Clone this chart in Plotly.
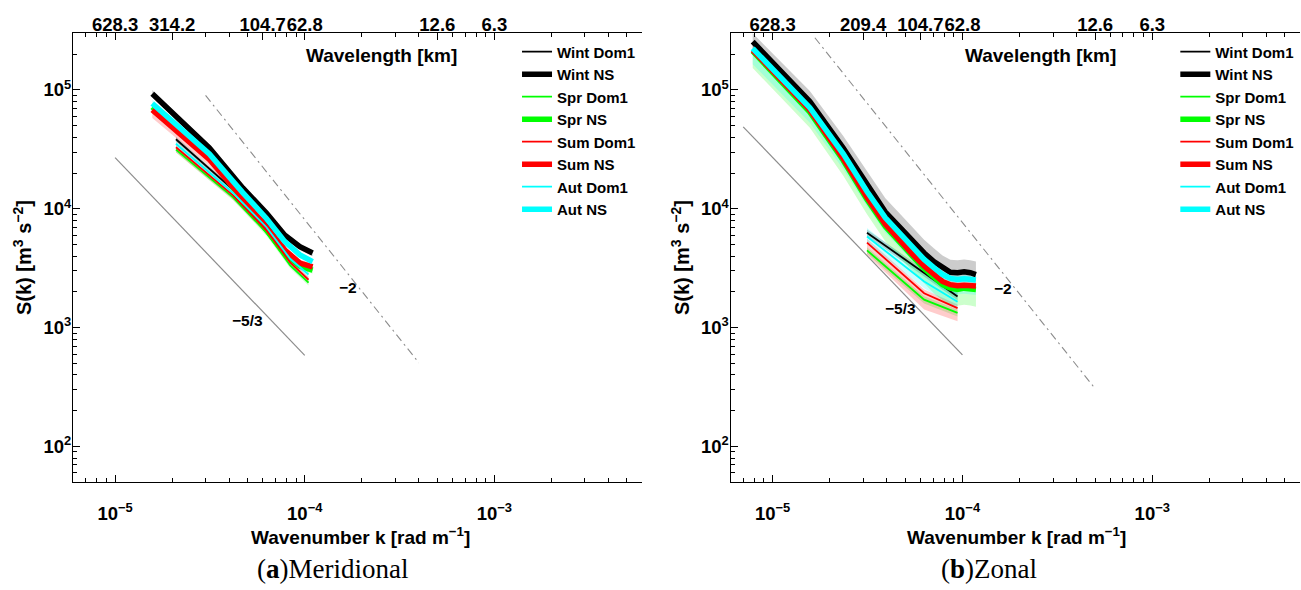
import plotly.graph_objects as go

# ---------------- data ----------------
# Meridional panel (a)
mer_k_ns = [1.571e-5, 3.142e-5, 4.712e-5, 6.283e-5, 7.854e-5, 9.425e-5, 1.100e-4]
mer_k_d1 = [2.094e-5, 4.189e-5, 6.283e-5, 8.378e-5, 1.047e-4]

mer_wint_ns = [93000, 32500, 15000, 9200, 6000, 4800, 4250]
mer_wint_ns_lo = [87000, 30500, 14100, 8650, 5650, 4500, 4000]
mer_wint_ns_hi = [100000, 34800, 16000, 9800, 6400, 5100, 4500]
mer_spr_ns = [72000, 27000, 12000, 6600, 4200, 3300, 3050]
mer_spr_ns_lo = [66000, 25000, 11000, 6100, 3900, 3050, 2850]
mer_spr_ns_hi = [78000, 29000, 13000, 7100, 4500, 3550, 3250]
mer_sum_ns = [68000, 26000, 12300, 7000, 4500, 3500, 3250]
mer_sum_ns_lo = [58000, 23000, 11200, 6400, 4150, 3250, 3000]
mer_sum_ns_hi = [74000, 28000, 13300, 7500, 4800, 3750, 3450]
mer_aut_ns = [77000, 29000, 13700, 8300, 5300, 4100, 3600]
mer_aut_ns_lo = [71000, 27000, 12800, 7800, 4950, 3850, 3400]
mer_aut_ns_hi = [83000, 31000, 14600, 8800, 5650, 4350, 3800]

mer_wint_d1 = [38500, 14500, 7500, 4100, 3050]
mer_wint_d1_lo = [36500, 13800, 7100, 3900, 2900]
mer_wint_d1_hi = [40500, 15200, 7900, 4300, 3200]
mer_spr_d1 = [31500, 12500, 6300, 3350, 2390]
mer_spr_d1_lo = [29800, 11800, 5950, 3170, 2260]
mer_spr_d1_hi = [33200, 13200, 6650, 3530, 2520]
mer_sum_d1 = [33000, 13000, 6600, 3550, 2530]
mer_sum_d1_lo = [30000, 12000, 6150, 3330, 2380]
mer_sum_d1_hi = [35000, 13800, 7000, 3770, 2680]
mer_aut_d1 = [35300, 13600, 7000, 3800, 2800]
mer_aut_d1_lo = [33300, 12900, 6650, 3600, 2650]
mer_aut_d1_hi = [37300, 14300, 7350, 4000, 2950]

# Zonal panel (b)
zon_k_ns = [7.854e-6, 1.571e-5, 2.356e-5, 3.142e-5, 3.927e-5, 4.712e-5, 5.498e-5, 6.283e-5,
            7.069e-5, 7.854e-5, 8.639e-5, 9.425e-5, 1.021e-4, 1.100e-4, 1.178e-4]
zon_k_d1 = [3.142e-5, 6.283e-5, 9.425e-5]

zon_wint_ns = [255000, 80000, 32500, 15800, 9400, 6900, 5300, 4250, 3600, 3170, 2920, 2900, 2950, 2900, 2800]
zon_wint_ns_lo = [220000, 69000, 28000, 13600, 8100, 5950, 4600, 3700, 3150, 2780, 2560, 2550, 2600, 2560, 2470]
zon_wint_ns_hi = [300000, 98000, 41000, 20500, 12300, 9000, 6900, 5500, 4650, 4050, 3720, 3700, 3750, 3700, 3600]
zon_spr_ns = [212000, 65000, 25500, 12000, 7100, 5100, 3950, 3150, 2650, 2300, 2150, 2100, 2150, 2130, 2100]
zon_spr_ns_lo = [153000, 48000, 19000, 9000, 5300, 3800, 2950, 2350, 1950, 1700, 1570, 1530, 1560, 1540, 1500]
zon_spr_ns_hi = [229000, 70000, 27500, 13000, 7650, 5500, 4250, 3400, 2860, 2480, 2320, 2270, 2320, 2300, 2270]
zon_sum_ns = [217000, 68000, 26500, 12500, 7400, 5300, 4100, 3300, 2800, 2450, 2300, 2250, 2280, 2260, 2240]
zon_sum_ns_lo = [200000, 62500, 24400, 11500, 6800, 4880, 3770, 3040, 2580, 2250, 2120, 2070, 2100, 2080, 2060]
zon_sum_ns_hi = [234000, 73500, 28600, 13500, 8000, 5720, 4430, 3560, 3020, 2650, 2480, 2430, 2460, 2440, 2420]
zon_aut_ns = [224000, 71000, 29000, 14000, 8400, 6100, 4700, 3750, 3200, 2800, 2600, 2550, 2580, 2560, 2520]
zon_aut_ns_lo = [165000, 53000, 21500, 10500, 6300, 4600, 3550, 2850, 2400, 2100, 1950, 1900, 1930, 1900, 1880]
zon_aut_ns_hi = [245000, 78000, 32000, 15400, 9200, 6700, 5200, 4100, 3500, 3080, 2860, 2800, 2840, 2820, 2770]

zon_wint_d1 = [6300, 2900, 1830]
zon_wint_d1_lo = [5900, 2700, 1700]
zon_wint_d1_hi = [6700, 3100, 1960]
zon_spr_d1 = [4470, 1720, 1330]
zon_spr_d1_lo = [4200, 1600, 1240]
zon_spr_d1_hi = [4750, 1840, 1420]
zon_sum_d1 = [5200, 1950, 1460]
zon_sum_d1_lo = [4100, 1420, 1130]
zon_sum_d1_hi = [5600, 2100, 1570]
zon_aut_d1 = [5850, 2450, 1650]
zon_aut_d1_lo = [5200, 2150, 1450]
zon_aut_d1_hi = [6900, 2900, 1950]

# reference slope lines
mer_ref53_k = [1e-5, 1e-4]
mer_ref53_s = [27000, 585]
mer_ref2_k = [3e-5, 4e-4]
mer_ref2_s = [90000, 506]
zon_ref53_k = [7e-6, 1e-4]
zon_ref53_s = [49000, 590]
zon_ref2_k = [1.67e-5, 5e-4]
zon_ref2_s = [275000, 307]

# tick labels
x_tick_vals = [1e-5, 1e-4, 1e-3]
x_tick_text = ["10<sup>−5</sup>", "10<sup>−4</sup>", "10<sup>−3</sup>"]
y_tick_vals = [1e2, 1e3, 1e4, 1e5]
y_tick_text = ["10<sup>2</sup>", "10<sup>3</sup>", "10<sup>4</sup>", "10<sup>5</sup>"]
mer_top_k = [1e-5, 2e-5, 6e-5, 1e-4, 5e-4, 1e-3]
mer_top_lbl = ["628.3", "314.2", "104.7", "62.8", "12.6", "6.3"]
zon_top_k = [1e-5, 3e-5, 6e-5, 1e-4, 5e-4, 1e-3]
zon_top_lbl = ["628.3", "209.4", "104.7", "62.8", "12.6", "6.3"]

series_names = ["Wint Dom1", "Wint NS", "Spr Dom1", "Spr NS", "Sum Dom1", "Sum NS", "Aut Dom1", "Aut NS"]
line_colors = ["#000000", "#000000", "#00ff00", "#00ff00", "#ff0000", "#ff0000", "#00ffff", "#00ffff"]
band_colors = ["rgba(0,0,0,0.2)", "rgba(0,0,0,0.2)", "rgba(0,255,0,0.2)", "rgba(0,255,0,0.2)",
               "rgba(255,0,0,0.2)", "rgba(255,0,0,0.2)", "rgba(0,255,255,0.2)", "rgba(0,255,255,0.2)"]
line_widths = [1.8, 5.5, 1.8, 5.5, 1.8, 5.5, 1.8, 5.5]

FONT = "Liberation Sans"

mer_sets = [
    (mer_k_d1, mer_wint_d1, mer_wint_d1_lo, mer_wint_d1_hi),
    (mer_k_ns, mer_wint_ns, mer_wint_ns_lo, mer_wint_ns_hi),
    (mer_k_d1, mer_spr_d1, mer_spr_d1_lo, mer_spr_d1_hi),
    (mer_k_ns, mer_spr_ns, mer_spr_ns_lo, mer_spr_ns_hi),
    (mer_k_d1, mer_sum_d1, mer_sum_d1_lo, mer_sum_d1_hi),
    (mer_k_ns, mer_sum_ns, mer_sum_ns_lo, mer_sum_ns_hi),
    (mer_k_d1, mer_aut_d1, mer_aut_d1_lo, mer_aut_d1_hi),
    (mer_k_ns, mer_aut_ns, mer_aut_ns_lo, mer_aut_ns_hi),
]
zon_sets = [
    (zon_k_d1, zon_wint_d1, zon_wint_d1_lo, zon_wint_d1_hi),
    (zon_k_ns, zon_wint_ns, zon_wint_ns_lo, zon_wint_ns_hi),
    (zon_k_d1, zon_spr_d1, zon_spr_d1_lo, zon_spr_d1_hi),
    (zon_k_ns, zon_spr_ns, zon_spr_ns_lo, zon_spr_ns_hi),
    (zon_k_d1, zon_sum_d1, zon_sum_d1_lo, zon_sum_d1_hi),
    (zon_k_ns, zon_sum_ns, zon_sum_ns_lo, zon_sum_ns_hi),
    (zon_k_d1, zon_aut_d1, zon_aut_d1_lo, zon_aut_d1_hi),
    (zon_k_ns, zon_aut_ns, zon_aut_ns_lo, zon_aut_ns_hi),
]

fig = go.Figure()


def add_panel(sets, xa, ya, xtop, legend_id, ref53k, ref53s, ref2k, ref2s):
    # shaded bands first
    for i, (k, v, lo, hi) in enumerate(sets):
        fig.add_trace(go.Scatter(
            x=list(k) + list(k)[::-1], y=list(hi) + list(lo)[::-1],
            mode="lines", fill="toself", fillcolor=band_colors[i],
            line=dict(width=0), hoverinfo="skip", showlegend=False,
            xaxis=xa, yaxis=ya))
    # reference slopes on the top (wavelength) axis, which shares the range
    fig.add_trace(go.Scatter(x=ref53k, y=ref53s, mode="lines",
                             line=dict(color="#8c8c8c", width=1.2),
                             showlegend=False, hoverinfo="skip", xaxis=xtop, yaxis=ya))
    fig.add_trace(go.Scatter(x=ref2k, y=ref2s, mode="lines",
                             line=dict(color="#8c8c8c", width=1.1, dash="8px,4px,2px,4px"),
                             showlegend=False, hoverinfo="skip", xaxis=xtop, yaxis=ya))
    for i, (k, v, lo, hi) in enumerate(sets):
        fig.add_trace(go.Scatter(
            x=k, y=v, mode="lines", name=series_names[i],
            line=dict(color=line_colors[i], width=line_widths[i]),
            legend=legend_id, xaxis=xa, yaxis=ya))


add_panel(mer_sets, "x", "y", "x3", "legend", mer_ref53_k, mer_ref53_s, mer_ref2_k, mer_ref2_s)
add_panel(zon_sets, "x2", "y2", "x4", "legend2", zon_ref53_k, zon_ref53_s, zon_ref2_k, zon_ref2_s)

XR = [-5.2218, -2.2218]   # 6e-6 .. 6e-3
YR = [1.699, 5.477]       # 50 .. 3e5
minor_x = [d * 10.0 ** e for e in range(-6, -2) for d in range(2, 10)]
minor_y = [d * 10.0 ** e for e in range(1, 6) for d in range(2, 10)]
all_x = [d * 10.0 ** e for e in range(-6, -2) for d in range(1, 10)]

tickfont = dict(family=FONT, size=18.5, color="black", weight="bold")
dom_a = [73 / 1301, 642 / 1301]
dom_b = [730.5 / 1301, 1300 / 1301]
dom_y = [(590 - 482.3) / 590, (590 - 33.3) / 590]


def xaxis_bottom(dom, anchor):
    return dict(type="log", range=XR, domain=dom, anchor=anchor, showline=True, linecolor="black",
                linewidth=1.2, ticks="inside", ticklen=7, tickcolor="black", tickwidth=1,
                tickmode="array", tickvals=x_tick_vals, ticktext=x_tick_text, tickfont=tickfont,
                showgrid=False, zeroline=False, tickangle=0, ticklabelstandoff=14,
                minor=dict(ticks="inside", ticklen=4, tickcolor="black", tickmode="array",
                           tickvals=minor_x, showgrid=False))


def xaxis_top(overlay, anchor, tv, tt):
    minor_top = [v for v in all_x if min(abs(v / t - 1) for t in tv) > 1e-6]
    return dict(type="log", range=XR, overlaying=overlay, anchor=anchor, side="top", showline=True,
                linecolor="black", linewidth=1.2, ticks="inside", ticklen=7, tickcolor="black",
                tickmode="array", tickvals=tv, ticktext=tt, tickfont=tickfont, showgrid=False,
                zeroline=False, tickangle=0, ticklabelstandoff=-6,
                minor=dict(ticks="inside", ticklen=4, tickcolor="black", tickmode="array",
                           tickvals=minor_top, showgrid=False))


def yaxis(anchor):
    return dict(type="log", range=YR, domain=dom_y, anchor=anchor, showline=True, linecolor="black",
                linewidth=1.2, ticks="inside", ticklen=7, tickcolor="black", tickmode="array",
                tickvals=y_tick_vals, ticktext=y_tick_text, tickfont=tickfont, showgrid=False,
                zeroline=False, ticklabelstandoff=-3,
                minor=dict(ticks="inside", ticklen=4, tickcolor="black", tickmode="array",
                           tickvals=minor_y, showgrid=False))


legend_common = dict(xanchor="left", yanchor="top", bgcolor="rgba(0,0,0,0)", borderwidth=0,
                     font=dict(family=FONT, size=15, color="black", weight="bold"),
                     tracegroupgap=0)

fig.update_layout(
    width=1301, height=590, margin=dict(l=0, r=0, t=0, b=0),
    paper_bgcolor="white", plot_bgcolor="white", showlegend=True,
    xaxis=xaxis_bottom(dom_a, "y"),
    yaxis=yaxis("x"),
    xaxis2=xaxis_bottom(dom_b, "y2"),
    yaxis2=yaxis("x2"),
    xaxis3=xaxis_top("x", "y", mer_top_k, mer_top_lbl),
    xaxis4=xaxis_top("x2", "y2", zon_top_k, zon_top_lbl),
    legend=dict(x=0.3974, y=0.94, **legend_common),
    legend2=dict(x=0.9034, y=0.94, **legend_common),
)

bold19 = dict(family=FONT, size=19, color="black", weight="bold")
ann = []
for cx, tx in [(381, "Wavelength [km]"), (1040, "Wavelength [km]")]:
    ann.append(dict(x=cx / 1301, y=(590 - 56) / 590, xref="paper", yref="paper", text=tx,
                    showarrow=False, font=bold19, xanchor="center", yanchor="middle"))
for cx, cy, tx in [(247, 320, "−5/3"), (348, 287, "−2"), (900, 308, "−5/3"), (1003, 288, "−2")]:
    ann.append(dict(x=cx / 1301, y=(590 - cy) / 590, xref="paper", yref="paper", text=tx,
                    showarrow=False, font=dict(family=FONT, size=15.5, color="black", weight="bold"),
                    xanchor="center", yanchor="middle"))
for cx in [22, 680]:
    ann.append(dict(x=cx / 1301, y=(590 - 258) / 590, xref="paper", yref="paper",
                    text="S(k) [m<sup>3</sup> s<sup>−2</sup>]", textangle=-90, showarrow=False,
                    font=dict(family=FONT, size=20, color="black", weight="bold"),
                    xanchor="center", yanchor="middle"))
for cx in [360, 1016]:
    ann.append(dict(x=cx / 1301, y=(590 - 536) / 590, xref="paper", yref="paper",
                    text="Wavenumber k [rad m<sup>−1</sup>]", showarrow=False, font=bold19,
                    xanchor="center", yanchor="middle"))
for cx, tx in [(332, "(<b>a</b>)Meridional"), (989, "(<b>b</b>)Zonal")]:
    ann.append(dict(x=cx / 1301, y=(590 - 569) / 590, xref="paper", yref="paper", text=tx,
                    showarrow=False, font=dict(family="Liberation Serif", size=27, color="black"),
                    xanchor="center", yanchor="middle"))
fig.update_layout(annotations=ann)

fig.write_html("out.html", config={"displayModeBar": False},
               post_script="document.body.style.margin='0px';")
